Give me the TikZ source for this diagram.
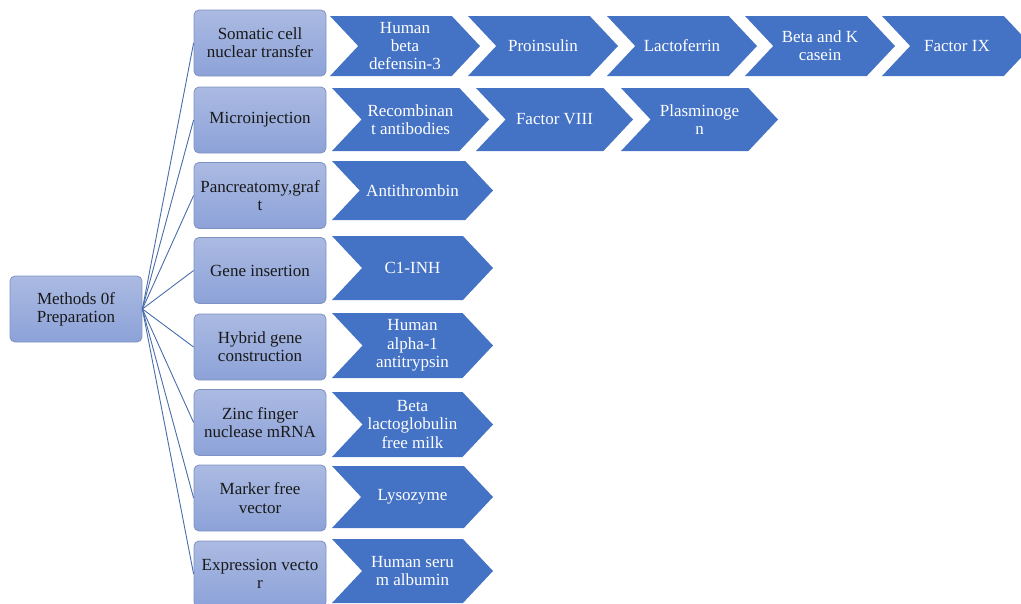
\documentclass[tikz,border=0pt]{standalone}
\usepackage{fontspec}
\setmainfont{Liberation Serif}
\definecolor{chevfill}{HTML}{4472C4}
\definecolor{boxtop}{HTML}{ABBAE2}
\definecolor{boxbot}{HTML}{8CA2D8}
\definecolor{boxline}{HTML}{8092C2}
\definecolor{conncol}{HTML}{4A6DAA}
\tikzset{
  methodbox/.style={draw=boxline, line width=0.8pt, rounded corners=5pt,
    top color=boxtop, bottom color=boxbot, minimum width=132pt,
    minimum height=66pt, align=center, text=black!90, inner sep=2pt,
    font=\fontsize{17}{18.3}\selectfont},
  chevtext/.style={text=white, align=center, inner sep=0pt,
    font=\fontsize{17}{18.3}\selectfont},
  connline/.style={draw=conncol, line width=0.9pt},
}
\newcommand{\chevshape}[6]{%
  \pgfmathsetmacro\chX{#2}\pgfmathsetmacro\chY{#3}%
  \pgfmathsetmacro\chW{#4}\pgfmathsetmacro\chH{#5}%
  \pgfmathsetmacro\chD{0.47*#5}%
  \fill[chevfill] (\chX,\chY) -- (\chX+\chW-\chD,\chY) -- (\chX+\chW,\chY+\chH/2)
    -- (\chX+\chW-\chD,\chY+\chH) -- (\chX,\chY+\chH) -- (\chX+\chD,\chY+\chH/2) -- cycle;
  \node[chevtext] (#1) at (\chX+\chW/2,\chY+\chH/2) {#6};%
}
\begin{document}
\begin{tikzpicture}[x=1pt,y=-1pt]
\useasboundingbox (0,0) rectangle (1021,603);
\clip (0,0) rectangle (1021,603);
% root
\node[methodbox] (root) at (76,309) {Methods 0f\\Preparation};
% methods
\node[methodbox] (m1) at (260,43) {Somatic cell\\nuclear transfer};
\node[methodbox] (m2) at (260,120) {Microinjection};
\node[methodbox] (m3) at (260,195.5) {Pancreatomy,graf\\t};
\node[methodbox] (m4) at (260,270.5) {Gene insertion};
\node[methodbox] (m5) at (260,347) {Hybrid gene\\construction};
\node[methodbox] (m6) at (260,422.5) {Zinc finger\\nuclease mRNA};
\node[methodbox] (m7) at (260,498) {Marker free\\vector};
\node[methodbox] (m8) at (260,574) {Expression vecto\\r};
% connectors
\foreach \i in {1,...,8} \draw[connline] (root.east) -- (m\i.west);
% row 1
\chevshape{c11}{330}{16}{150}{60}{Human\\beta\\defensin-3}
\chevshape{c12}{468}{16}{150}{60}{Proinsulin}
\chevshape{c13}{607}{16}{150}{60}{Lactoferrin}
\chevshape{c14}{745}{16}{150}{60}{Beta and K\\casein}
\chevshape{c15}{882}{16}{150}{60}{Factor IX}
% row 2
\chevshape{c21}{332}{88}{157}{63}{Recombinan\\t antibodies}
\chevshape{c22}{476}{88}{157}{63}{Factor VIII}
\chevshape{c23}{621}{88}{157}{63}{Plasminoge\\n}
% rows 3-8
\chevshape{c31}{332}{161}{161}{59}{Antithrombin}
\chevshape{c41}{332}{236}{161}{64}{C1-INH}
\chevshape{c51}{332}{313}{161}{65}{Human\\alpha-1\\antitrypsin}
\chevshape{c61}{332}{392}{161}{65}{Beta\\lactoglobulin\\free milk}
\chevshape{c71}{332}{466}{161}{62}{Lysozyme}
\chevshape{c81}{332}{539}{161}{64}{Human seru\\m albumin}
\end{tikzpicture}
\end{document}
